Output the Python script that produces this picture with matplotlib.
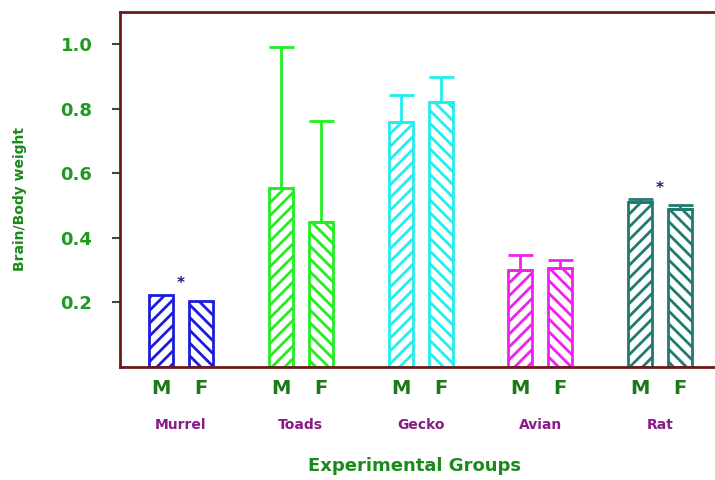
import numpy as np
import matplotlib
matplotlib.use('Agg')
import matplotlib.pyplot as plt

groups = ['Murrel', 'Toads', 'Gecko', 'Avian', 'Rat']
sexes = ['M', 'F']
male_vals = [0.222, 0.553, 0.758, 0.299, 0.510]
female_vals = [0.205, 0.448, 0.820, 0.305, 0.490]
male_err = [0.0, 0.437, 0.084, 0.047, 0.009]
female_err = [0.0, 0.313, 0.078, 0.025, 0.010]
colors = ['#1c1cdc', '#22ee22', '#22eeee', '#ee22ee', '#207a70']
starred = ['Murrel', 'Rat']

# higher dpi so the hatch lines are spaced out like the original
DPI = 115
k = 100 / DPI

plt.rcParams['hatch.linewidth'] = 2.0 * k

fig = plt.figure(figsize=(715 / DPI, 480 / DPI), dpi=DPI)
ax = fig.add_axes([0.168, 0.236, 0.832, 0.739])

x = np.arange(len(groups))
off = 0.167
w = 0.2
for i, g in enumerate(groups):
    c = colors[i]
    for dx, val, err, h in [(-off, male_vals[i], male_err[i], '///'),
                            (off, female_vals[i], female_err[i], '\\\\\\')]:
        ax.bar(x[i] + dx, val, width=w, facecolor='white', edgecolor=c,
               hatch=h, linewidth=2 * k)
        if err > 0:
            ax.errorbar(x[i] + dx, val, yerr=[[0], [err]], color=c,
                        capsize=9 * k, capthick=2 * k, elinewidth=2 * k,
                        fmt='none')
    if g in starred:
        top = max(male_vals[i] + male_err[i], female_vals[i] + female_err[i])
        ax.text(x[i], top + 0.035, '*', ha='center', va='center',
                color='#1a1a7a', fontsize=11 * k, fontweight='bold')

ax.set_xlim(-0.508, 4.458)
ax.set_ylim(0, 1.1)
ax.set_yticks([0.2, 0.4, 0.6, 0.8, 1.0])
ax.set_yticklabels(['0.2', '0.4', '0.6', '0.8', '1.0'], color='#1f9a1f',
                   fontsize=13 * k, fontweight='bold')
ax.tick_params(axis='y', length=6 * k, width=1.5 * k, color='#444444',
               pad=14 * k)
ax.set_xticks([])

spine_c = '#6a1a1a'
for s in ['left', 'bottom', 'top']:
    ax.spines[s].set_color(spine_c)
    ax.spines[s].set_linewidth(2 * k)
ax.spines['right'].set_visible(False)

trans = ax.get_xaxis_transform()
for i, g in enumerate(groups):
    ax.text(x[i] - off, -0.06, 'M', transform=trans, ha='center', va='center',
            color='#1a7a1a', fontsize=14 * k, fontweight='bold')
    ax.text(x[i] + off, -0.06, 'F', transform=trans, ha='center', va='center',
            color='#1a7a1a', fontsize=14 * k, fontweight='bold')
    ax.text(x[i], -0.165, g, transform=trans, ha='center', va='center',
            color='#8a1a8a', fontsize=10 * k, fontweight='bold')

fig.text(0.58, 0.03, 'Experimental Groups', ha='center', va='center',
         color='#1a8a1a', fontsize=13 * k, fontweight='bold')
fig.text(0.028, 0.585, 'Brain/Body weight', ha='center', va='center',
         rotation=90, color='#1a8a1a', fontsize=10 * k, fontweight='bold')

fig.savefig('out.png', dpi=DPI)
